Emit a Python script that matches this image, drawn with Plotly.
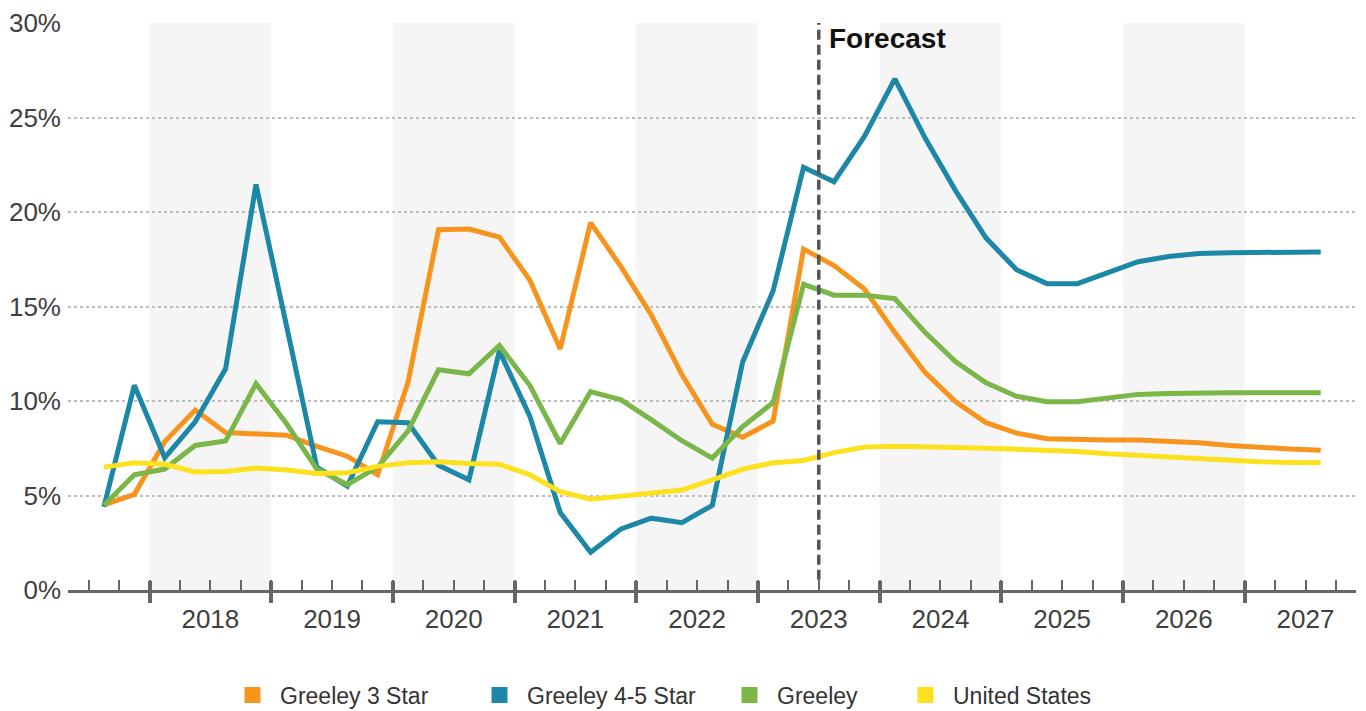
import plotly.graph_objects as go

# ---- data -------------------------------------------------------------
periods = ["2017 Q3", "2017 Q4",
           "2018 Q1", "2018 Q2", "2018 Q3", "2018 Q4",
           "2019 Q1", "2019 Q2", "2019 Q3", "2019 Q4",
           "2020 Q1", "2020 Q2", "2020 Q3", "2020 Q4",
           "2021 Q1", "2021 Q2", "2021 Q3", "2021 Q4",
           "2022 Q1", "2022 Q2", "2022 Q3", "2022 Q4",
           "2023 Q1", "2023 Q2", "2023 Q3", "2023 Q4",
           "2024 Q1", "2024 Q2", "2024 Q3", "2024 Q4",
           "2025 Q1", "2025 Q2", "2025 Q3", "2025 Q4",
           "2026 Q1", "2026 Q2", "2026 Q3", "2026 Q4",
           "2027 Q1", "2027 Q2", "2027 Q3"]

greeley_3_star = [4.5, 5.06, 7.85, 9.52, 8.33, 8.29, 8.19, 7.6, 7.08, 6.1,
                  11.0, 19.06, 19.1, 18.67, 16.4, 12.75, 19.44, 17.1, 14.54, 11.4,
                  8.77, 8.08, 8.94, 18.04, 17.17, 15.92, 13.62, 11.5, 9.96, 8.85,
                  8.3, 8.0, 7.94, 7.94, 7.94, 7.88, 7.79, 7.65, 7.54, 7.46, 7.4]

greeley_45_star = [4.4, 10.83, 7.0, 8.9, 11.7, 21.46, 14.0, 6.5, 5.5, 8.9,
                   8.85, 6.6, 5.83, 12.65, 9.2, 4.1, 2.0, 3.23, 3.8, 3.56,
                   4.48, 12.08, 15.83, 22.37, 21.6, 24.0, 27.04, 23.9, 21.12, 18.62,
                   16.95, 16.21, 16.21, 16.8, 17.37, 17.65, 17.8, 17.85, 17.88, 17.88, 17.88]

greeley = [4.48, 6.1, 6.4, 7.65, 7.88, 10.92, 8.81, 6.4, 5.58, 6.5,
           8.42, 11.65, 11.44, 12.94, 10.83, 7.75, 10.5, 10.06, 9.0, 7.9,
           6.98, 8.65, 9.92, 16.17, 15.6, 15.6, 15.42, 13.62, 12.08, 10.96,
           10.25, 9.96, 9.96, 10.15, 10.35, 10.4, 10.44, 10.44, 10.44, 10.44, 10.44]

united_states = [6.5, 6.73, 6.65, 6.25, 6.27, 6.46, 6.35, 6.17, 6.2, 6.54,
                 6.73, 6.79, 6.69, 6.65, 6.1, 5.2, 4.8, 4.96, 5.1, 5.29,
                 5.83, 6.4, 6.73, 6.85, 7.27, 7.56, 7.6, 7.6, 7.54, 7.5,
                 7.46, 7.42, 7.33, 7.21, 7.12, 7.02, 6.92, 6.85, 6.79, 6.75, 6.73]

years = [2018, 2019, 2020, 2021, 2022, 2023, 2024, 2025, 2026, 2027]
shaded_years = [2018, 2020, 2022, 2024, 2026]
forecast_start = "2023 Q3"
y_ticks = [0, 5, 10, 15, 20, 25, 30]
y_tick_labels = ["0%", "5%", "10%", "15%", "20%", "25%", "30%"]

series = [
    ("Greeley 3 Star", greeley_3_star, "#F7941D"),
    ("Greeley 4-5 Star", greeley_45_star, "#1C87A6"),
    ("Greeley", greeley, "#7AB648"),
    ("United States", united_states, "#FDE01E"),
]

# ---- helpers ----------------------------------------------------------
def period_center(p):
    y, q = p.split(" Q")
    return int(y) + (int(q) - 0.5) / 4.0

def period_start(p):
    y, q = p.split(" Q")
    return int(y) + (int(q) - 1) / 4.0

xs = [period_center(p) for p in periods]
x_range = [2017.33, 2027.915]
quarter_ticks = [2017.5 + 0.25 * i for i in range(42) if 2017.5 + 0.25 * i < x_range[1]]

FONT = "Liberation Sans, Arial, sans-serif"
AXIS_COLOR = "#666666"
TEXT_COLOR = "#404040"

fig = go.Figure()

for name, vals, color in series:
    fig.add_trace(go.Scatter(
        x=xs, y=vals, mode="lines", name=name,
        line=dict(color=color, width=5),
        showlegend=False,
        hovertemplate="%{y:.1f}%<extra>" + name + "</extra>",
    ))

# legend entries (square swatches), one legend each for precise placement
legend_names = ["legend", "legend2", "legend3", "legend4"]
for (name, vals, color), lg in zip(series, legend_names):
    fig.add_trace(go.Scatter(
        x=[None], y=[None], mode="markers", name=name,
        marker=dict(symbol="square", size=18, color=color),
        legend=lg, showlegend=True, hoverinfo="skip",
    ))

# dummy traces for overlay axes
fig.add_trace(go.Scatter(x=[None], y=[None], xaxis="x2", showlegend=False, hoverinfo="skip"))
fig.add_trace(go.Scatter(x=[None], y=[None], xaxis="x3", showlegend=False, hoverinfo="skip"))

# year bands
for yv in shaded_years:
    fig.add_shape(type="rect", xref="x", yref="paper", x0=yv, x1=yv + 1, y0=0, y1=1,
                  fillcolor="#F5F5F5", line=dict(width=0), layer="below")

# forecast divider
fx = period_start(forecast_start)
fig.add_shape(type="line", xref="x", yref="paper", x0=fx, x1=fx, y0=0.018, y1=1.0,
              line=dict(color="#555555", width=3.5, dash="10px,5px"), layer="above")
fig.add_annotation(x=fx, y=1.0, xref="x", yref="paper", text="<b>Forecast</b>",
                   showarrow=False, xanchor="left", yanchor="top", xshift=8, yshift=2,
                   font=dict(family=FONT, size=28, color="#111111"))

plot_h = 711 - 23 - 121

fig.update_layout(
    width=1366, height=711,
    margin=dict(l=68, r=10, t=23, b=121, autoexpand=False),
    plot_bgcolor="white", paper_bgcolor="white",
    font=dict(family=FONT, color=TEXT_COLOR),
    xaxis=dict(
        range=x_range, showgrid=False, zeroline=False,
        showline=True, linecolor=AXIS_COLOR, linewidth=3,
        tickmode="array", tickvals=quarter_ticks,
        ticks="inside", ticklen=10, tickwidth=2, tickcolor=AXIS_COLOR,
        showticklabels=False, fixedrange=True,
    ),
    xaxis2=dict(
        overlaying="x", matches="x", anchor="free", position=10 / plot_h,
        showgrid=False, zeroline=False, showline=False,
        tickmode="array", tickvals=years,
        ticks="outside", ticklen=22, tickwidth=3.5, tickcolor=AXIS_COLOR,
        showticklabels=False,
    ),
    xaxis3=dict(
        overlaying="x", matches="x", anchor="y",
        showgrid=False, zeroline=False, showline=False,
        tickmode="array", tickvals=[yv + 0.5 for yv in years],
        ticktext=[str(yv) for yv in years], ticks="",
        ticklabelstandoff=11,
        tickfont=dict(family=FONT, size=26, color=TEXT_COLOR),
    ),
    yaxis=dict(
        range=[0, 30], tickmode="array", tickvals=y_ticks, ticktext=y_tick_labels,
        showgrid=True, gridcolor="#BDBDBD", gridwidth=1.5,
        griddash="dot", zeroline=False, showline=False, ticks="",
        ticklabelstandoff=6,
        tickfont=dict(family=FONT, size=26, color=TEXT_COLOR), fixedrange=True,
    ),
    showlegend=True,
)

legend_common = dict(orientation="h", yanchor="middle", yref="container", y=1 - 695 / 711,
                     xanchor="left", itemwidth=45,
                     font=dict(family=FONT, size=23, color="#333333"),
                     bgcolor="rgba(0,0,0,0)", itemclick=False, itemdoubleclick=False)
swatch_left = [244, 491, 741, 917]
for lg, px in zip(legend_names, swatch_left):
    fig.update_layout({lg: dict(legend_common, x=(px - 68 - 19) / 1288)})

fig.write_html("out.html")
